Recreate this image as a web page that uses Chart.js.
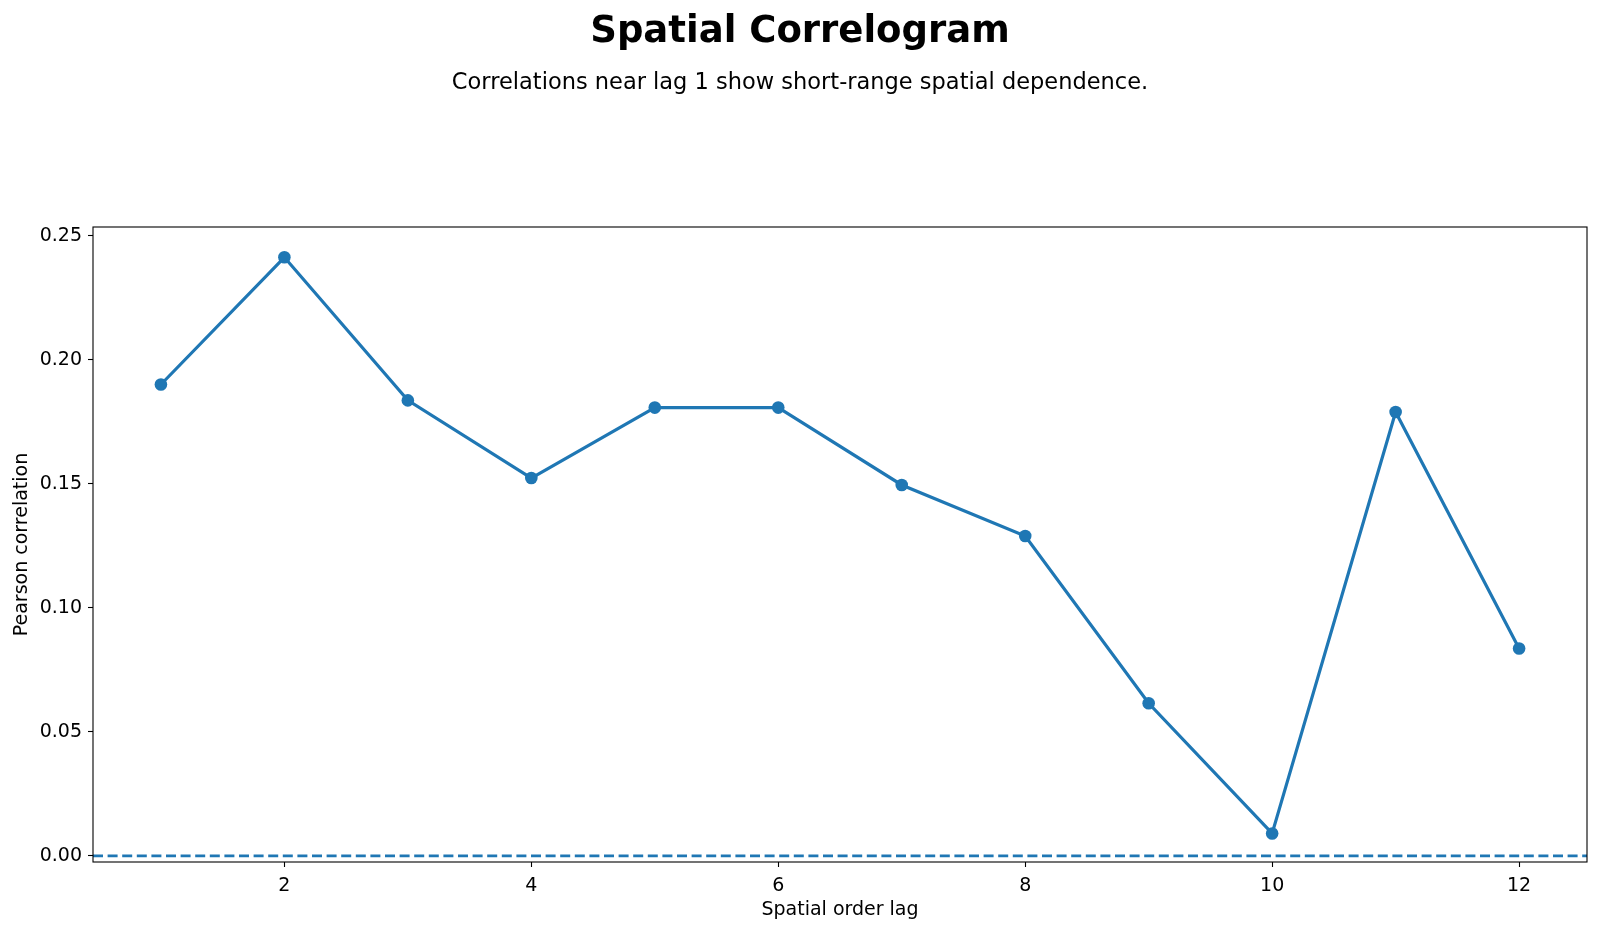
<!DOCTYPE html>
<html>
<head>
<meta charset="utf-8">
<script src="https://cdn.jsdelivr.net/npm/chart.js@4"></script>
<style>
  body { margin: 0; background: #ffffff; }
  #wrap { width: 1600px; height: 932px; }
</style>
</head>
<body>
<div id="wrap"><canvas id="chart" width="1600" height="932"></canvas></div>
<script>
// Lags and the correlation at each lag
const lags = [1, 2, 3, 4, 5, 6, 7, 8, 9, 10, 11, 12];
const correlations = [0.190, 0.2413, 0.1836, 0.1523, 0.1807, 0.1807, 0.1495, 0.1289, 0.0615, 0.0090, 0.1789, 0.0836];

// Reference line at zero
const zeroLevel = 0;

// Tick values shown on each axis
const xTicks = [2, 4, 6, 8, 10, 12];
const yTicks = [0.00, 0.05, 0.10, 0.15, 0.20, 0.25];

const blue = '#1f77b4';
const font = 'DejaVu Sans';

// Black box round the plot area, like a matplotlib frame
const frame = {
    id: 'frame',
    afterDraw(chart) {
        const { ctx, chartArea: a } = chart;
        ctx.save();
        ctx.strokeStyle = '#000000';
        ctx.lineWidth = 1.1;
        ctx.strokeRect(a.left, a.top, a.right - a.left, a.bottom - a.top);
        ctx.restore();
    }
};

new Chart(document.getElementById('chart'), {
    type: 'line',
    plugins: [frame],
    data: {
        datasets: [
            {
                data: lags.map((x, i) => ({ x: x, y: correlations[i] })),
                borderColor: blue,
                backgroundColor: blue,
                borderWidth: 3.2,
                pointRadius: 6.3,
                pointHoverRadius: 6.3,
                pointBorderWidth: 0,
                tension: 0
            },
            {
                data: [{ x: 0.45, y: zeroLevel }, { x: 12.55, y: zeroLevel }],
                borderColor: blue,
                borderWidth: 2.7,
                borderDash: [10, 4.6],
                pointRadius: 0,
                tension: 0
            }
        ]
    },
    options: {
        responsive: false,
        animation: false,
        // equal side padding keeps the titles centred on the page
        layout: { padding: { left: 13, right: 13 } },
        plugins: {
            legend: { display: false },
            tooltip: { enabled: false },
            title: {
                display: true,
                text: 'Spatial Correlogram',
                color: '#000000',
                font: { family: font, size: 37, weight: 'bold', lineHeight: 1.2 },
                padding: { top: 10.3, bottom: 0 }
            },
            subtitle: {
                display: true,
                text: 'Correlations near lag 1 show short-range spatial dependence.',
                color: '#000000',
                font: { family: font, size: 22.5, lineHeight: 1.2 },
                padding: { top: 14.5, bottom: 130.8 }
            }
        },
        scales: {
            x: {
                type: 'linear',
                min: 0.45,
                max: 12.55,
                afterBuildTicks: s => { s.ticks = xTicks.map(v => ({ value: v })); },
                afterFit: s => { s.height = 70; },
                grid: { drawOnChartArea: false, tickLength: 5, tickColor: '#000000', tickWidth: 1.1 },
                border: { display: false },
                ticks: { color: '#000000', font: { family: font, size: 19 }, padding: 8, maxRotation: 0 },
                title: {
                    display: true,
                    text: 'Spatial order lag',
                    color: '#000000',
                    font: { family: font, size: 19, lineHeight: 1.2 },
                    padding: { top: 0, bottom: 10.6 }
                }
            },
            y: {
                min: -0.0025,
                max: 0.2535,
                afterBuildTicks: s => { s.ticks = yTicks.map(v => ({ value: v })); },
                afterFit: s => { s.width = 80; },
                grid: { drawOnChartArea: false, tickLength: 5, tickColor: '#000000', tickWidth: 1.1 },
                border: { display: false },
                ticks: {
                    color: '#000000',
                    font: { family: font, size: 19 },
                    padding: 6,
                    callback: v => v.toFixed(2)
                },
                title: {
                    display: true,
                    text: 'Pearson correlation',
                    color: '#000000',
                    font: { family: font, size: 19, lineHeight: 1.2 },
                    padding: { top: -2.4, bottom: 0 }
                }
            }
        }
    }
});
</script>
</body>
</html>
